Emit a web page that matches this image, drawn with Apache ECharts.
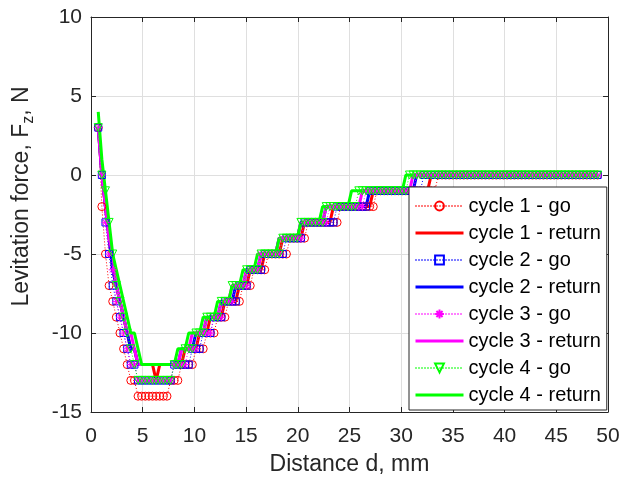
<!DOCTYPE html>
<html>
<head>
<meta charset="utf-8">
<script src="https://cdn.jsdelivr.net/npm/echarts@6/dist/echarts.min.js"></script>
<style>
  html, body { margin: 0; padding: 0; background: #ffffff; }
  #chart { width: 624px; height: 481px; }
</style>
</head>
<body>
<div id="chart"></div>
<script>
// Sample positions along the track, mm
const distance = [
  0.7, 1.05, 1.4, 1.75, 2.1, 2.45, 2.8, 3.15, 3.5, 3.85,
  4.2, 4.55, 4.9, 5.25, 5.6, 5.95, 6.3, 6.65, 7.0, 7.35,
  7.7, 8.05, 8.4, 8.75, 9.1, 9.45, 9.8, 10.15, 10.5, 10.85,
  11.2, 11.55, 11.9, 12.25, 12.6, 12.95, 13.3, 13.65, 14.0, 14.35,
  14.7, 15.05, 15.4, 15.75, 16.1, 16.45, 16.8, 17.15, 17.5, 17.85,
  18.2, 18.55, 18.9, 19.25, 19.6, 19.95, 20.3, 20.65, 21.0, 21.35,
  21.7, 22.05, 22.4, 22.75, 23.1, 23.45, 23.8, 24.15, 24.5, 24.85,
  25.2, 25.55, 25.9, 26.25, 26.6, 26.95, 27.3, 27.65, 28.0, 28.35,
  28.7, 29.05, 29.4, 29.75, 30.1, 30.45, 30.8, 31.15, 31.5, 31.85,
  32.2, 32.55, 32.9, 33.25, 33.6, 33.95, 34.3, 34.65, 35.0, 35.35,
  35.7, 36.05, 36.4, 36.75, 37.1, 37.45, 37.8, 38.15, 38.5, 38.85,
  39.2, 39.55, 39.9, 40.25, 40.6, 40.95, 41.3, 41.65, 42.0, 42.35,
  42.7, 43.05, 43.4, 43.75, 44.1, 44.45, 44.8, 45.15, 45.5, 45.85,
  46.2, 46.55, 46.9, 47.25, 47.6, 47.95, 48.3, 48.65, 49.0
];

// Levitation force Fz, N, at each sample position
const cycle1Go = [
  3, -2, -5, -7, -8, -9, -10, -11, -12, -13,
  -13, -14, -14, -14, -14, -14, -14, -14, -14, -14,
  -13, -13, -13, -12, -12, -12, -12, -11, -11, -11,
  -10, -10, -10, -9, -9, -9, -8, -8, -8, -8,
  -7, -7, -7, -6, -6, -6, -6, -5, -5, -5,
  -5, -5, -5, -4, -4, -4, -4, -4, -3, -3,
  -3, -3, -3, -3, -3, -3, -3, -2, -2, -2,
  -2, -2, -2, -2, -2, -2, -2, -1, -1, -1,
  -1, -1, -1, -1, -1, -1, -1, -1, -1, -1,
  -1, -1, -1, -1, 0, 0, 0, 0, 0, 0,
  0, 0, 0, 0, 0, 0, 0, 0, 0, 0,
  0, 0, 0, 0, 0, 0, 0, 0, 0, 0,
  0, 0, 0, 0, 0, 0, 0, 0, 0, 0,
  0, 0, 0, 0, 0, 0, 0, 0, 0
];

const cycle1Return = [
  3, 0, -2, -4, -6, -7, -8, -9, -10, -11,
  -11, -12, -12, -12, -12, -12, -13, -12, -12, -12,
  -12, -12, -12, -12, -11, -11, -11, -11, -10, -10,
  -10, -9, -9, -9, -9, -8, -8, -8, -8, -7,
  -7, -7, -6, -6, -6, -6, -5, -5, -5, -5,
  -5, -4, -4, -4, -4, -4, -4, -3, -3, -3,
  -3, -3, -3, -3, -3, -2, -2, -2, -2, -2,
  -2, -2, -2, -2, -2, -2, -1, -1, -1, -1,
  -1, -1, -1, -1, -1, -1, -1, -1, -1, -1,
  -1, -1, 0, 0, 0, 0, 0, 0, 0, 0,
  0, 0, 0, 0, 0, 0, 0, 0, 0, 0,
  0, 0, 0, 0, 0, 0, 0, 0, 0, 0,
  0, 0, 0, 0, 0, 0, 0, 0, 0, 0,
  0, 0, 0, 0, 0, 0, 0, 0, 0
];

const cycle2Go = [
  3, 0, -3, -5, -7, -8, -9, -10, -11, -12,
  -12, -13, -13, -13, -13, -13, -13, -13, -13, -13,
  -13, -12, -12, -12, -12, -12, -11, -11, -11, -10,
  -10, -10, -9, -9, -9, -8, -8, -8, -8, -7,
  -7, -7, -6, -6, -6, -6, -5, -5, -5, -5,
  -5, -5, -4, -4, -4, -4, -4, -3, -3, -3,
  -3, -3, -3, -3, -3, -3, -2, -2, -2, -2,
  -2, -2, -2, -2, -2, -1, -1, -1, -1, -1,
  -1, -1, -1, -1, -1, -1, -1, -1, -1, -1,
  0, 0, 0, 0, 0, 0, 0, 0, 0, 0,
  0, 0, 0, 0, 0, 0, 0, 0, 0, 0,
  0, 0, 0, 0, 0, 0, 0, 0, 0, 0,
  0, 0, 0, 0, 0, 0, 0, 0, 0, 0,
  0, 0, 0, 0, 0, 0, 0, 0, 0
];

const cycle2Return = [
  3, 0, -2, -4, -6, -7, -8, -9, -10, -11,
  -11, -12, -12, -12, -12, -12, -12, -12, -12, -12,
  -12, -12, -12, -11, -11, -11, -11, -10, -10, -10,
  -9, -9, -9, -9, -8, -8, -8, -8, -7, -7,
  -7, -6, -6, -6, -6, -5, -5, -5, -5, -5,
  -4, -4, -4, -4, -4, -4, -3, -3, -3, -3,
  -3, -3, -3, -2, -2, -2, -2, -2, -2, -2,
  -2, -2, -2, -2, -2, -1, -1, -1, -1, -1,
  -1, -1, -1, -1, -1, -1, -1, -1, 0, 0,
  0, 0, 0, 0, 0, 0, 0, 0, 0, 0,
  0, 0, 0, 0, 0, 0, 0, 0, 0, 0,
  0, 0, 0, 0, 0, 0, 0, 0, 0, 0,
  0, 0, 0, 0, 0, 0, 0, 0, 0, 0,
  0, 0, 0, 0, 0, 0, 0, 0, 0
];

const cycle3Go = [
  3, 0, -3, -5, -6, -8, -9, -10, -11, -12,
  -12, -13, -13, -13, -13, -13, -13, -13, -13, -13,
  -13, -12, -12, -12, -12, -11, -11, -11, -10, -10,
  -10, -10, -9, -9, -9, -8, -8, -8, -7, -7,
  -7, -7, -6, -6, -6, -5, -5, -5, -5, -5,
  -5, -4, -4, -4, -4, -4, -4, -3, -3, -3,
  -3, -3, -3, -3, -2, -2, -2, -2, -2, -2,
  -2, -2, -2, -2, -1, -1, -1, -1, -1, -1,
  -1, -1, -1, -1, -1, -1, -1, -1, 0, 0,
  0, 0, 0, 0, 0, 0, 0, 0, 0, 0,
  0, 0, 0, 0, 0, 0, 0, 0, 0, 0,
  0, 0, 0, 0, 0, 0, 0, 0, 0, 0,
  0, 0, 0, 0, 0, 0, 0, 0, 0, 0,
  0, 0, 0, 0, 0, 0, 0, 0, 0
];

const cycle3Return = [
  3, 0, -2, -4, -5, -7, -8, -9, -10, -10,
  -11, -12, -12, -12, -12, -12, -12, -12, -12, -12,
  -12, -12, -12, -11, -11, -11, -10, -10, -10, -10,
  -9, -9, -9, -9, -8, -8, -8, -7, -7, -7,
  -7, -6, -6, -6, -6, -5, -5, -5, -5, -5,
  -4, -4, -4, -4, -4, -4, -3, -3, -3, -3,
  -3, -3, -3, -2, -2, -2, -2, -2, -2, -2,
  -2, -2, -2, -1, -1, -1, -1, -1, -1, -1,
  -1, -1, -1, -1, -1, -1, -1, 0, 0, 0,
  0, 0, 0, 0, 0, 0, 0, 0, 0, 0,
  0, 0, 0, 0, 0, 0, 0, 0, 0, 0,
  0, 0, 0, 0, 0, 0, 0, 0, 0, 0,
  0, 0, 0, 0, 0, 0, 0, 0, 0, 0,
  0, 0, 0, 0, 0, 0, 0, 0, 0
];

const cycle4Go = [
  3, 0, -1, -3, -5, -7, -8, -9, -10, -11,
  -12, -13, -13, -13, -13, -13, -13, -13, -13, -13,
  -13, -12, -12, -12, -11, -11, -11, -10, -10, -10,
  -9, -9, -9, -9, -8, -8, -8, -7, -7, -7,
  -7, -6, -6, -6, -6, -5, -5, -5, -5, -5,
  -5, -4, -4, -4, -4, -4, -3, -3, -3, -3,
  -3, -3, -3, -2, -2, -2, -2, -2, -2, -2,
  -2, -2, -1, -1, -1, -1, -1, -1, -1, -1,
  -1, -1, -1, -1, -1, -1, 0, 0, 0, 0,
  0, 0, 0, 0, 0, 0, 0, 0, 0, 0,
  0, 0, 0, 0, 0, 0, 0, 0, 0, 0,
  0, 0, 0, 0, 0, 0, 0, 0, 0, 0,
  0, 0, 0, 0, 0, 0, 0, 0, 0, 0,
  0, 0, 0, 0, 0, 0, 0, 0, 0
];

const cycle4Return = [
  4, 1, -1, -3, -5, -6, -7, -8, -9, -10,
  -10, -11, -12, -12, -12, -12, -12, -12, -12, -12,
  -12, -12, -11, -11, -11, -10, -10, -10, -10, -9,
  -9, -9, -9, -8, -8, -8, -8, -7, -7, -7,
  -6, -6, -6, -6, -5, -5, -5, -5, -5, -5,
  -4, -4, -4, -4, -4, -4, -3, -3, -3, -3,
  -3, -3, -2, -2, -2, -2, -2, -2, -2, -2,
  -1, -1, -1, -1, -1, -1, -1, -1, -1, -1,
  -1, -1, -1, -1, -1, 0, 0, 0, 0, 0,
  0, 0, 0, 0, 0, 0, 0, 0, 0, 0,
  0, 0, 0, 0, 0, 0, 0, 0, 0, 0,
  0, 0, 0, 0, 0, 0, 0, 0, 0, 0,
  0, 0, 0, 0, 0, 0, 0, 0, 0, 0,
  0, 0, 0, 0, 0, 0, 0, 0, 0
];

const seriesNames = [
  'cycle 1 - go', 'cycle 1 - return',
  'cycle 2 - go', 'cycle 2 - return',
  'cycle 3 - go', 'cycle 3 - return',
  'cycle 4 - go', 'cycle 4 - return'
];

const xRange = [0, 50, 5];
const yRange = [-15, 10, 5];

const INK = '#262626';
const GRID = '#dfdfdf';
const CLEAR = 'rgba(0,0,0,0)';
const FONT = '"Liberation Sans", Arial, Helvetica, sans-serif';
const RETURN_WIDTH = 3;

// asterisk marker drawn as stroked spokes
const ASTERISK = 'path://M5,0L5,10M0,5L10,5M1.5,1.5L8.5,8.5M8.5,1.5L1.5,8.5';

function pairs(values) {
  return distance.map((d, i) => [d, values[i]]);
}

function goSeries(name, values, color, symbol, size, rotate) {
  return {
    name: name,
    type: 'line',
    data: pairs(values),
    symbol: symbol,
    symbolSize: size,
    symbolRotate: rotate || 0,
    showSymbol: true,
    showAllSymbol: true,
    silent: true,
    emphasis: { disabled: true },
    lineStyle: { color: color, width: 1, type: [1, 2] },
    itemStyle: { color: CLEAR, borderColor: color, borderWidth: 1 }
  };
}

// thick solid line, no markers (transparent item colour keeps the legend icon a bare line)
function returnSeries(name, values, color) {
  return {
    name: name,
    type: 'line',
    data: pairs(values),
    symbol: 'none',
    showSymbol: false,
    silent: true,
    emphasis: { disabled: true },
    lineStyle: { color: color, width: RETURN_WIDTH },
    itemStyle: { color: CLEAR, borderWidth: 0 }
  };
}

function boxAxis(base) {
  return Object.assign({
    type: 'value',
    axisLine: { show: true, onZero: false, lineStyle: { color: INK, width: 1 } },
    axisTick: { show: true, inside: true, length: 5, lineStyle: { color: INK, width: 1 } },
    axisLabel: { show: false },
    splitLine: { show: false }
  }, base);
}

const seriesList = [
  goSeries(seriesNames[0], cycle1Go, '#ff0000', 'circle', 8),
  returnSeries(seriesNames[1], cycle1Return, '#ff0000'),
  goSeries(seriesNames[2], cycle2Go, '#0000ff', 'rect', 7),
  returnSeries(seriesNames[3], cycle2Return, '#0000ff'),
  goSeries(seriesNames[4], cycle3Go, '#ff00ff', ASTERISK, 8),
  returnSeries(seriesNames[5], cycle3Return, '#ff00ff'),
  goSeries(seriesNames[6], cycle4Go, '#00ff00', 'triangle', 8, 180),
  returnSeries(seriesNames[7], cycle4Return, '#00ff00')
];

// legend entries: return lines drawn as thick as in the plot
const legendData = seriesList.map(s => s.symbol === 'none'
  ? { name: s.name, lineStyle: { width: RETURN_WIDTH, color: s.lineStyle.color } }
  : { name: s.name });

const chart = echarts.init(document.getElementById('chart'), null, { renderer: 'canvas' });

chart.setOption({
  animation: false,
  backgroundColor: '#ffffff',
  textStyle: { fontFamily: FONT },
  grid: { left: 91, top: 17, width: 517, height: 395, containLabel: false },
  xAxis: [
    boxAxis({
      position: 'bottom',
      min: xRange[0], max: xRange[1], interval: xRange[2],
      name: 'Distance d, mm',
      nameLocation: 'middle',
      nameGap: 41,
      nameTextStyle: { fontSize: 23, color: INK, fontFamily: FONT },
      axisLabel: { show: true, fontSize: 21, color: INK, margin: 14, fontFamily: FONT },
      splitLine: { show: true, lineStyle: { color: GRID, width: 1 } }
    }),
    boxAxis({ position: 'top', min: xRange[0], max: xRange[1], interval: xRange[2] })
  ],
  yAxis: [
    boxAxis({
      position: 'left',
      min: yRange[0], max: yRange[1], interval: yRange[2],
      name: '{m|Levitation force, F}{s|z}{m|, N}',
      nameLocation: 'middle',
      nameGap: 54,
      nameRotate: 90,
      nameTextStyle: {
        color: INK, fontFamily: FONT,
        padding: [0, 0, 0, 36],
        rich: {
          m: { fontSize: 23, color: INK, fontFamily: FONT, lineHeight: 30, verticalAlign: 'middle' },
          s: { fontSize: 16, color: INK, fontFamily: FONT, lineHeight: 16, verticalAlign: 'bottom' }
        }
      },
      axisLabel: { show: true, fontSize: 21, color: INK, margin: 9, fontFamily: FONT },
      splitLine: { show: true, lineStyle: { color: GRID, width: 1 } }
    }),
    boxAxis({ position: 'right', min: yRange[0], max: yRange[1], interval: yRange[2] })
  ],
  legend: {
    orient: 'vertical',
    left: 409,
    top: 187,
    backgroundColor: '#ffffff',
    borderColor: INK,
    borderWidth: 1,
    borderRadius: 0,
    padding: [9, 6, 5, 5],
    itemGap: 7,
    itemWidth: 48,
    itemHeight: 11,
    selectedMode: false,
    textStyle: { fontSize: 20, color: '#000000', fontFamily: FONT, lineHeight: 20 },
    data: legendData
  },
  series: seriesList
});
</script>
</body>
</html>
